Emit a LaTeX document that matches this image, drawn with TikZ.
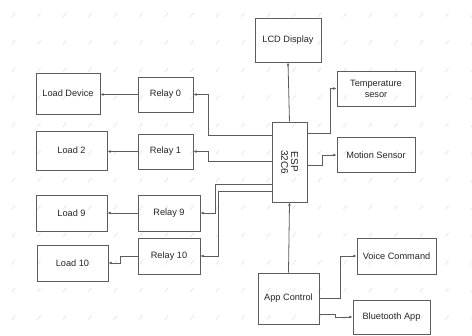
\documentclass[tikz,border=0pt]{standalone}
\usepackage{fontspec}
\setmainfont{Liberation Sans}
\usetikzlibrary{arrows.meta,positioning}
\definecolor{linegray}{HTML}{5C5C5C}
\definecolor{markgray}{HTML}{E4E4E4}
\tikzset{
  >={Latex[length=3.2pt,width=2.8pt]},
  blk/.style={rectangle, draw=linegray, line width=0.9pt, inner sep=1pt, align=center,
    font=\fontsize{9.2}{11}\selectfont, text=black!85},
  wire/.style={->, draw=linegray, line width=0.8pt},
  mark line/.style={draw=markgray, line width=0.7pt, line cap=round}
}

\begin{document}
\begin{tikzpicture}[x=1pt,y=-1pt]
    \useasboundingbox (0,0) rectangle (472,336);
    \fill[white] (0,0) rectangle (472,336);

    % faint background marks
    \foreach \i in {0,...,18}
      \foreach \j in {0,...,11}
        \draw[mark line] (12+25.5*\i,17+27.5*\j) -- ++(3,-4);

    % controller and outputs
    \node[blk, minimum width=35, minimum height=80, font=\fontsize{10}{11}\selectfont] (esp) at (289.5,162)
        {\rotatebox{-90}{\shortstack{ESP\\32C6}}};
    \node[blk, minimum width=66, minimum height=44] (lcd) at (288,40) {LCD Display};
    \node[blk, minimum width=78, minimum height=35] (temp) at (376,88.5) {Temperature\\sesor};
    \node[blk, minimum width=78, minimum height=35] (motion) at (376,155) {Motion Sensor};

    % relays and loads
    \node[blk, minimum width=55, minimum height=35] (relay0) at (165.5,94.5) {Relay 0};
    \node[blk, minimum width=55, minimum height=35] (relay1) at (165.5,151.5) {Relay 1};
    \node[blk, minimum width=62, minimum height=36] (relay9) at (169,213) {Relay 9};
    \node[blk, minimum width=62, minimum height=36] (relay10) at (169,256) {Relay 10};
    \node[blk, minimum width=64, minimum height=41] (loaddev) at (68,93.5) {Load Device};
    \node[blk, minimum width=71, minimum height=39] (load2) at (71.5,150.5) {Load 2};
    \node[blk, minimum width=71, minimum height=36] (load9) at (71.5,213) {Load 9};
    \node[blk, minimum width=71, minimum height=36] (load10) at (72.5,263) {Load 10};

    % app side
    \node[blk, minimum width=61, minimum height=51] (app) at (288.5,298.5) {App Control};
    \node[blk, minimum width=79, minimum height=36] (voice) at (396.5,256) {Voice Command};
    \node[blk, minimum width=77, minimum height=34] (bt) at (391.5,317) {Bluetooth App};

    % ESP connections
    \draw[wire] (esp.north) -- (lcd.south);
    \draw[wire] ([yshift=29pt]esp.east) -- ++(23,0) |- (temp.west);
    \draw[wire] ([yshift=-3pt]esp.east) -- ++(15,0) |- (motion.west);
    \draw[wire] ([yshift=27pt]esp.west) -- ++(-63,0) |- (relay0.east);
    \draw[wire] ([yshift=1pt]esp.west) -- ++(-63,0) |- (relay1.east);
    \draw[wire] ([yshift=-22pt]esp.west) -- ++(-56,0) |- (relay9.east);
    \draw[wire] ([yshift=-29pt]esp.west) -- ++(-53,0) |- (relay10.east);

    % relay to load
    \draw[wire] (relay0.west) -- (relay0.west -| loaddev.east);
    \draw[wire] (relay1.west) -- (relay1.west -| load2.east);
    \draw[wire] (relay9.west) -- (load9.east);
    \draw[wire] (relay10.west) -- ++(-17,0) |- (load10.east);

    % app control
    \draw[wire] (app.north) -- (esp.south);
    \draw[wire] (app.east) -- ++(21,0) |- (voice.west);
    \draw[wire] ([yshift=-16pt]app.east) -- ++(16,0) |- (bt.west);

\end{tikzpicture}
\end{document}
